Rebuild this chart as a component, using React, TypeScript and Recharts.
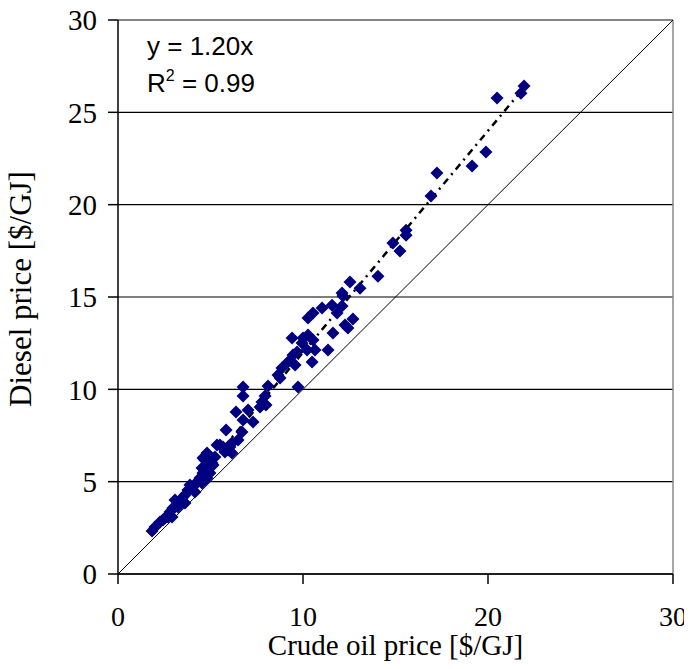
import React from "react";
import { ScatterChart, Scatter, XAxis, YAxis, CartesianGrid, ReferenceLine } from "recharts";

// crude oil price [$/GJ] vs diesel price [$/GJ]
const CRUDE = [
  21.95, 21.78, 20.49, 19.89, 19.14, 17.24, 16.92, 15.57, 15.57, 14.86,
  15.24, 14.05, 12.54, 13.08, 12.11, 12.16, 12.11, 12.7, 11.57, 11.03,
  11.84, 10.54, 10.27, 12.27, 12.43, 11.62, 9.41, 10.0, 10.27, 10.54,
  9.95, 9.68, 10.22, 10.65, 11.35, 9.46, 9.19, 9.57, 10.49, 8.86,
  8.65, 8.76, 9.73, 8.11, 6.76, 6.76, 7.95, 7.78, 8.0, 7.68,
  7.03, 6.38, 7.3, 6.76, 5.84, 6.7, 6.49, 5.51, 6.05, 5.78,
  6.16, 4.81, 4.59, 4.97, 5.14, 1.84, 2.0, 2.27, 2.54, 2.81,
  2.7, 2.97, 3.19, 3.08, 3.46, 3.62, 3.78, 3.89, 4.05, 4.27,
  4.43, 4.59, 4.54, 4.7, 4.86, 5.08, 5.24, 5.35, 5.68, 5.95,
  6.16, 4.43, 3.62, 3.24, 2.92, 2.43, 4.16, 4.54, 4.81, 4.97,
];
const DIESEL = [
  26.42, 26.04, 25.77, 22.85, 22.09, 21.71, 20.47, 18.62, 18.35, 17.92,
  17.49, 16.13, 15.81, 15.48, 15.21, 15.05, 14.51, 13.81, 14.56, 14.4,
  14.13, 14.13, 13.86, 13.48, 13.32, 13.05, 12.78, 12.78, 12.94, 12.67,
  12.51, 12.02, 12.13, 12.13, 12.13, 11.86, 11.48, 11.32, 11.48, 11.15,
  10.77, 10.61, 10.12, 10.18, 10.12, 9.64, 9.64, 9.31, 9.15, 9.04,
  8.88, 8.77, 8.23, 8.34, 7.8, 7.69, 7.26, 6.98, 6.88, 6.61,
  6.55, 6.55, 6.28, 6.06, 5.9, 2.33, 2.54, 2.82, 3.03, 3.36,
  3.09, 3.57, 3.74, 4.01, 4.11, 4.28, 4.55, 4.82, 4.71, 4.98,
  5.2, 5.47, 5.74, 6.17, 5.79, 6.01, 6.33, 6.98, 6.88, 6.71,
  7.09, 5.09, 3.84, 3.63, 3.09, 2.92, 4.44, 4.93, 5.2, 5.47,
];

const X_TICKS = [0, 10, 20, 30];
const Y_TICKS = [0, 5, 10, 15, 20, 25, 30];
const SLOPE = 1.2;
const TREND_X = [1.8, 22];

const data = CRUDE.map((x, i) => ({ x, y: DIESEL[i] }));

const serif = "'Liberation Serif', 'Times New Roman', serif";
const sans = "'Liberation Sans', Arial, sans-serif";

function Diamond(props: any) {
  const { cx, cy } = props;
  const r = 6.5;
  return (
    <polygon
      points={`${cx},${cy - r} ${cx + r},${cy} ${cx},${cy + r} ${cx - r},${cy}`}
      fill="#000080"
    />
  );
}

export default function App() {
  const tickStyle = { fontFamily: serif, fontSize: 29, fill: "#000" };
  return (
    <div style={{ margin: -8, position: "relative", width: 692, height: 669, background: "#fff" }}>
      <ScatterChart width={692} height={669} margin={{ top: 20, right: 19, bottom: 0, left: 0 }}>
        <CartesianGrid vertical={false} stroke="#000" strokeWidth={1.2} />
        <XAxis
          type="number"
          dataKey="x"
          domain={[0, 30]}
          ticks={X_TICKS}
          height={95}
          tickSize={10}
          tickMargin={22}
          tick={{ ...tickStyle, fontSize: 28 }}
          stroke="#000"
          strokeWidth={1.5}
          label={{
            value: "Crude oil price [$/GJ]",
            position: "insideBottom",
            offset: 14,
            style: { fontFamily: serif, fontSize: 29, fill: "#000" },
          }}
        />
        <YAxis
          type="number"
          dataKey="y"
          domain={[0, 30]}
          ticks={Y_TICKS}
          width={118}
          tickSize={10}
          tickMargin={11}
          tick={tickStyle}
          stroke="#000"
          strokeWidth={1.5}
          label={{
            value: "Diesel price [$/GJ]",
            angle: -90,
            position: "insideLeft",
            offset: 20,
            dy: -8,
            style: { fontFamily: serif, fontSize: 31, fill: "#000", textAnchor: "middle" },
          }}
        />
        <ReferenceLine y={30} stroke="#888" strokeWidth={1.5} />
        <ReferenceLine x={30} stroke="#888" strokeWidth={1.5} />
        <ReferenceLine
          segment={[{ x: 0, y: 0 }, { x: 30, y: 30 }]}
          stroke="#000"
          strokeWidth={1}
        />
        <Scatter data={data} shape={Diamond} isAnimationActive={false} />
        <ReferenceLine
          segment={[
            { x: TREND_X[0], y: TREND_X[0] * SLOPE },
            { x: TREND_X[1], y: TREND_X[1] * SLOPE },
          ]}
          stroke="#000"
          strokeWidth={2.5}
          strokeDasharray="7 5 2 5"
        />
      </ScatterChart>
      <div style={{ position: "absolute", left: 147, top: 33, fontFamily: sans, fontSize: 26, lineHeight: 1, color: "#000", whiteSpace: "nowrap" }}>
        y = 1.20x
      </div>
      <div style={{ position: "absolute", left: 147, top: 70, fontFamily: sans, fontSize: 26, lineHeight: 1, color: "#000", whiteSpace: "nowrap" }}>
        R<span style={{ fontSize: 16, position: "relative", top: -11 }}>2</span> = 0.99
      </div>
    </div>
  );
}
